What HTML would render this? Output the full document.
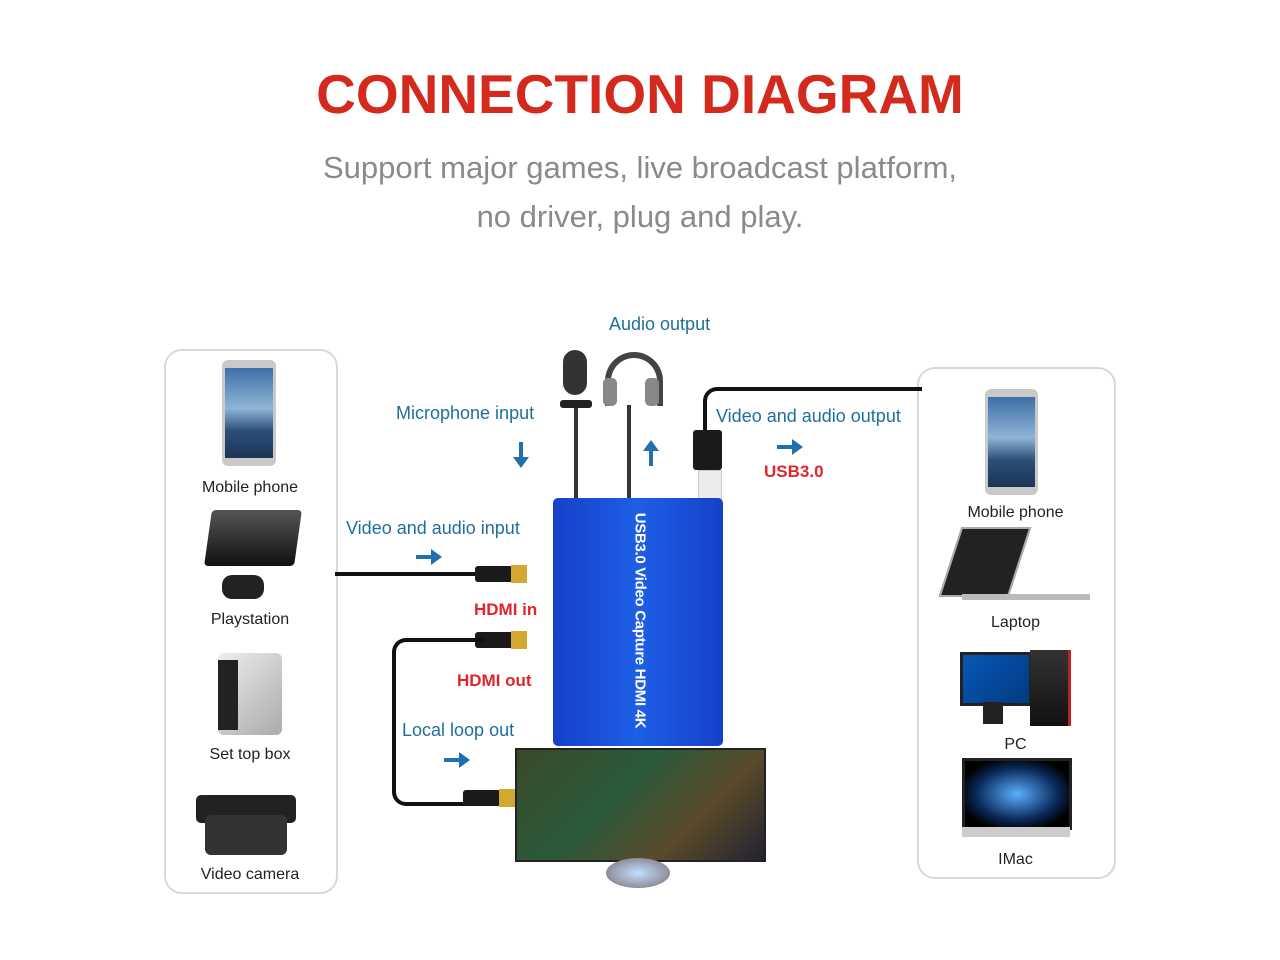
<!DOCTYPE html>
<html><head><meta charset="utf-8"><style>
body{margin:0;width:1280px;height:960px;background:#fff;position:relative;overflow:hidden;font-family:"Liberation Sans",sans-serif}
.a{position:absolute}
.t{position:absolute;color:#1f6f9c;font-size:18px;white-space:nowrap}
.r{position:absolute;color:#e0262a;font-size:17px;font-weight:bold;white-space:nowrap}
.k{position:absolute;color:#222;font-size:16px;white-space:nowrap;text-align:center}
.box{position:absolute;border:2px solid #d8d8d8;border-radius:18px}
.phone{position:absolute;border-radius:6px;background:#c9c9c9}
.phone i{position:absolute;left:3px;right:3px;top:8px;bottom:8px;background:linear-gradient(#3e6fa6,#8fb4d6 45%,#2c4f78 70%,#1c3556)}
.line{position:absolute;background:#111}
.hdmi{position:absolute;width:52px;height:22px}
.hdmi b{position:absolute;left:0;top:4px;width:38px;height:16px;background:#1a1a1a;border-radius:3px}
.hdmi s{position:absolute;left:36px;top:3px;width:16px;height:18px;background:#d4a830}
svg.ar{position:absolute}
</style></head><body>
<div class="a" style="left:0;width:1280px;top:62px;text-align:center;color:#d42a1e;font-size:55px;font-weight:bold">CONNECTION DIAGRAM</div>
<div class="a" style="left:0;width:1280px;top:143px;text-align:center;color:#8a8a8a;font-size:31px;line-height:49px">Support major games, live broadcast platform,<br>no driver, plug and play.</div>

<div class="box" style="left:164px;top:349px;width:170px;height:541px"></div>
<div class="box" style="left:917px;top:367px;width:195px;height:508px"></div>

<div class="phone" style="left:222px;top:360px;width:54px;height:106px"><i></i></div>
<div class="k" style="left:165px;width:170px;top:479px">Mobile phone</div>
<div class="a" style="left:208px;top:510px;width:90px;height:56px;background:linear-gradient(#555,#111);transform:skewX(-8deg);border-radius:4px"></div>
<div class="a" style="left:222px;top:575px;width:42px;height:24px;background:#222;border-radius:10px"></div>
<div class="k" style="left:165px;width:170px;top:611px">Playstation</div>
<div class="a" style="left:218px;top:653px;width:64px;height:82px;background:linear-gradient(135deg,#eee,#aaa);border-radius:6px"></div>
<div class="a" style="left:218px;top:660px;width:20px;height:70px;background:#222"></div>
<div class="k" style="left:165px;width:170px;top:746px">Set top box</div>
<div class="a" style="left:196px;top:795px;width:100px;height:28px;background:#222;border-radius:5px"></div>
<div class="a" style="left:205px;top:815px;width:82px;height:40px;background:#333;border-radius:6px"></div>
<div class="k" style="left:165px;width:170px;top:866px">Video camera</div>

<div class="phone" style="left:985px;top:389px;width:53px;height:106px"><i></i></div>
<div class="k" style="left:918px;width:195px;top:504px">Mobile phone</div>
<div class="a" style="left:950px;top:527px;width:66px;height:66px;background:#222;transform:skewX(-18deg);border:2px solid #aaa"></div>
<div class="a" style="left:962px;top:594px;width:128px;height:6px;background:#bbb"></div>
<div class="k" style="left:918px;width:195px;top:614px">Laptop</div>
<div class="a" style="left:960px;top:652px;width:66px;height:48px;background:linear-gradient(135deg,#0a58b8,#003a80);border:3px solid #222"></div>
<div class="a" style="left:983px;top:702px;width:20px;height:22px;background:#222"></div>
<div class="a" style="left:1030px;top:650px;width:38px;height:76px;background:linear-gradient(#333,#111);border-right:3px solid #b22"></div>
<div class="k" style="left:918px;width:195px;top:736px">PC</div>
<div class="a" style="left:962px;top:758px;width:104px;height:66px;background:radial-gradient(ellipse at center,#5ab0ff,#0a2a5a 55%,#000 80%);border:3px solid #222"></div>
<div class="a" style="left:962px;top:827px;width:108px;height:10px;background:#ccc"></div>
<div class="k" style="left:918px;width:195px;top:851px">IMac</div>

<div class="line" style="left:335px;top:572px;width:145px;height:4px"></div>
<div class="hdmi" style="left:475px;top:562px"><b></b><s></s></div>
<div class="hdmi" style="left:475px;top:628px"><b></b><s></s></div>
<div class="a" style="left:392px;top:638px;width:90px;height:160px;border:4px solid #111;border-right:none;border-radius:14px 0 0 14px"></div>
<div class="hdmi" style="left:463px;top:786px"><b></b><s></s></div>
<div class="a" style="left:703px;top:387px;width:215px;height:50px;border:4px solid #111;border-right:none;border-bottom:none;border-radius:14px 0 0 0"></div>
<div class="a" style="left:693px;top:430px;width:29px;height:40px;background:#1a1a1a;border-radius:3px"></div>
<div class="a" style="left:698px;top:470px;width:22px;height:27px;background:#ececec;border:1px solid #ccc"></div>
<div class="line" style="left:574px;top:405px;width:4px;height:93px;background:#333"></div>
<div class="line" style="left:627px;top:405px;width:4px;height:93px;background:#333"></div>
<div class="a" style="left:563px;top:350px;width:24px;height:45px;background:#333;border-radius:12px"></div>
<div class="a" style="left:560px;top:400px;width:32px;height:8px;background:#222;border-radius:3px"></div>
<div class="a" style="left:605px;top:352px;width:46px;height:48px;border:6px solid #444;border-bottom:none;border-radius:30px 30px 0 0"></div>
<div class="a" style="left:603px;top:378px;width:14px;height:28px;background:#888;border-radius:5px"></div>
<div class="a" style="left:645px;top:378px;width:14px;height:28px;background:#888;border-radius:5px"></div>

<div class="a" style="left:553px;top:498px;width:170px;height:248px;background:linear-gradient(90deg,#1640c8,#1d5fe6 50%,#1640c8);border-radius:5px"></div>
<div class="a" style="left:640px;top:622px;width:0;height:0"><div style="position:absolute;left:-120px;top:-10px;width:240px;text-align:center;transform:rotate(90deg);color:#fff;font-weight:bold;font-size:15px;white-space:nowrap;letter-spacing:-0.3px">USB3.0 Video Capture HDMI 4K</div></div>

<div class="a" style="left:515px;top:748px;width:247px;height:110px;background:linear-gradient(135deg,#3a4a2a,#2a5a3a 40%,#5a4a2a 70%,#223);border:2px solid #222"></div>
<div class="a" style="left:606px;top:858px;width:64px;height:30px;border-radius:50%;background:radial-gradient(ellipse,#bfe0ff,#99a 60%,#666)"></div>

<div class="t" style="left:609px;top:314px">Audio output</div>
<div class="t" style="left:396px;top:403px">Microphone input</div>
<div class="t" style="left:716px;top:406px">Video and audio output</div>
<div class="r" style="left:764px;top:462px">USB3.0</div>
<div class="t" style="left:346px;top:518px">Video and audio input</div>
<div class="r" style="left:474px;top:600px">HDMI in</div>
<div class="r" style="left:457px;top:671px">HDMI out</div>
<div class="t" style="left:402px;top:720px">Local loop out</div>

<svg class="ar" style="left:512px;top:442px" width="18" height="26"><path d="M7 0h4v15h6l-8 11-8-11h6z" fill="#1e70b0"/></svg>
<svg class="ar" style="left:642px;top:440px" width="18" height="26"><path d="M7 26h4v-15h6l-8-11-8 11h6z" fill="#1e70b0"/></svg>
<svg class="ar" style="left:416px;top:548px" width="26" height="18"><path d="M0 7v4h15v6l11-8-11-8v6z" fill="#1e70b0"/></svg>
<svg class="ar" style="left:777px;top:438px" width="26" height="18"><path d="M0 7v4h15v6l11-8-11-8v6z" fill="#1e70b0"/></svg>
<svg class="ar" style="left:444px;top:751px" width="26" height="18"><path d="M0 7v4h15v6l11-8-11-8v6z" fill="#1e70b0"/></svg>
</body></html>
